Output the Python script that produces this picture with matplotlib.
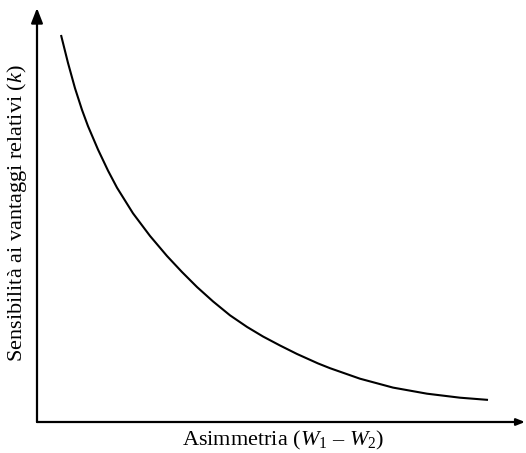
import matplotlib.pyplot as plt

# curva: sensibilità ai vantaggi relativi in funzione dell'asimmetria
asimmetria = [4.93, 6.37, 7.80, 9.24, 10.47, 12.53, 14.58, 16.43, 19.71, 23.20, 26.69, 29.77, 32.85,
              36.14, 39.63, 43.12, 46.41, 49.90, 53.39, 57.70, 60.16, 66.32, 73.10, 80.08, 86.86, 92.61]
sensibilita = [93.48, 86.71, 80.63, 75.39, 71.47, 65.80, 60.72, 56.59, 50.41, 44.95, 40.10, 36.23, 32.61,
               29.13, 25.77, 22.97, 20.65, 18.48, 16.43, 14.15, 13.00, 10.46, 8.31, 6.84, 5.87, 5.34]

plt.rcParams['font.family'] = ['Liberation Serif', 'DejaVu Serif']
plt.rcParams['mathtext.fontset'] = 'custom'
plt.rcParams['mathtext.rm'] = 'Liberation Serif'
plt.rcParams['mathtext.it'] = 'Liberation Serif:italic'

fig = plt.figure(figsize=(5.26, 4.53), dpi=100)
ax = fig.add_axes([37/526, 31/453, 487/526, 414/453])

ax.plot(asimmetria, sensibilita, color='black', lw=1.5, solid_capstyle='butt', solid_joinstyle='round')

ax.set_xlim(0, 100)
ax.set_ylim(0, 100)
for s in ax.spines.values():
    s.set_visible(False)
ax.set_xticks([])
ax.set_yticks([])

# assi con frecce
ax.annotate('', xy=(0, 1), xytext=(0, 0), xycoords='axes fraction',
            arrowprops=dict(arrowstyle='-|>,head_length=0.9,head_width=0.35',
                            color='black', lw=1.6, shrinkA=0, shrinkB=0))
ax.annotate('', xy=(1.002, 0), xytext=(0, 0), xycoords='axes fraction',
            arrowprops=dict(arrowstyle='-|>,head_length=0.5,head_width=0.2',
                            color='black', lw=1.6, shrinkA=0, shrinkB=0))

fig.text(283/526, 1 - 440/453, 'Asimmetria ($W_1$ – $W_2$)', ha='center', va='center', fontsize=16)
fig.text(17/526, 1 - 213/453, 'Sensibilità ai vantaggi relativi ($k$)', ha='center', va='center',
         rotation=90, fontsize=16)

fig.savefig('out.png', dpi=100)
